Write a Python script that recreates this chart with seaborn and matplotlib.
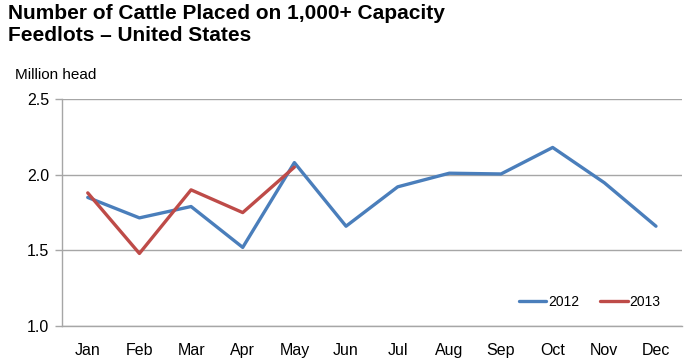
import numpy as np
import pandas as pd
import matplotlib
matplotlib.use("Agg")
import matplotlib.pyplot as plt
import seaborn as sns

# values (million head)
months = ['Jan', 'Feb', 'Mar', 'Apr', 'May', 'Jun', 'Jul', 'Aug', 'Sep', 'Oct', 'Nov', 'Dec']
placed_2012 = [1.85, 1.715, 1.79, 1.52, 2.08, 1.66, 1.92, 2.01, 2.005, 2.18, 1.947, 1.66]
placed_2013 = [1.88, 1.48, 1.90, 1.75, 2.05]
y_ticks = [1.0, 1.5, 2.0, 2.5]

rows = []
for i, v in enumerate(placed_2012):
    rows.append({'month': i, 'value': v, 'year': '2012'})
for i, v in enumerate(placed_2013):
    rows.append({'month': i, 'value': v, 'year': '2013'})
df = pd.DataFrame(rows)

sns.set_style('white')
plt.rcParams['font.family'] = ['Liberation Sans', 'DejaVu Sans']
plt.rcParams['text.color'] = 'black'
plt.rcParams['xtick.labelcolor'] = 'black'
plt.rcParams['ytick.labelcolor'] = 'black'

fig = plt.figure(figsize=(6.88, 3.64), dpi=100)
ax = fig.add_axes([0.09, 0.104, 0.901, 0.624])

sns.lineplot(data=df, x='month', y='value', hue='year',
             palette={'2012': '#4A7EBB', '2013': '#BE4B48'},
             linewidth=2.4, ax=ax)

ax.set_xlim(-0.5, 11.5)
ax.set_ylim(1.0, 2.5)
ax.set_yticks(y_ticks)
ax.set_yticklabels([f'{t:.1f}' for t in y_ticks], fontsize=11.5)
ax.yaxis.grid(True, color='#A6A6A6', linewidth=1)
ax.set_axisbelow(True)

# month labels centred, tick marks on category boundaries
ax.set_xticks(np.arange(12))
ax.set_xticklabels(months, fontsize=11.5)
ax.set_xticks(np.arange(-0.5, 12, 1), minor=True)
ax.tick_params(axis='x', which='major', length=0, pad=12)
ax.tick_params(axis='x', which='minor', length=5, color='#A6A6A6', width=1, direction='out')
ax.tick_params(axis='y', length=5, color='#A6A6A6', width=1, direction='out', left=True, pad=4)
ax.set_xlabel('')
ax.set_ylabel('')

for s in ['top', 'right']:
    ax.spines[s].set_visible(False)
for s in ['left', 'bottom']:
    ax.spines[s].set_color('#A6A6A6')
    ax.spines[s].set_linewidth(1)

leg = ax.legend(loc='lower right', bbox_to_anchor=(0.985, 0.02), ncol=2, frameon=False,
                fontsize=10, handlelength=2.0, handletextpad=0.1, columnspacing=1.5)

fig.text(0.012, 0.988, 'Number of Cattle Placed on 1,000+ Capacity\nFeedlots \u2013 United States',
         fontsize=15, fontweight='bold', va='top', ha='left', linespacing=1.15)
fig.text(0.022, 0.795, 'Million head', fontsize=11, va='center', ha='left')

fig.savefig('out.png', dpi=100)
